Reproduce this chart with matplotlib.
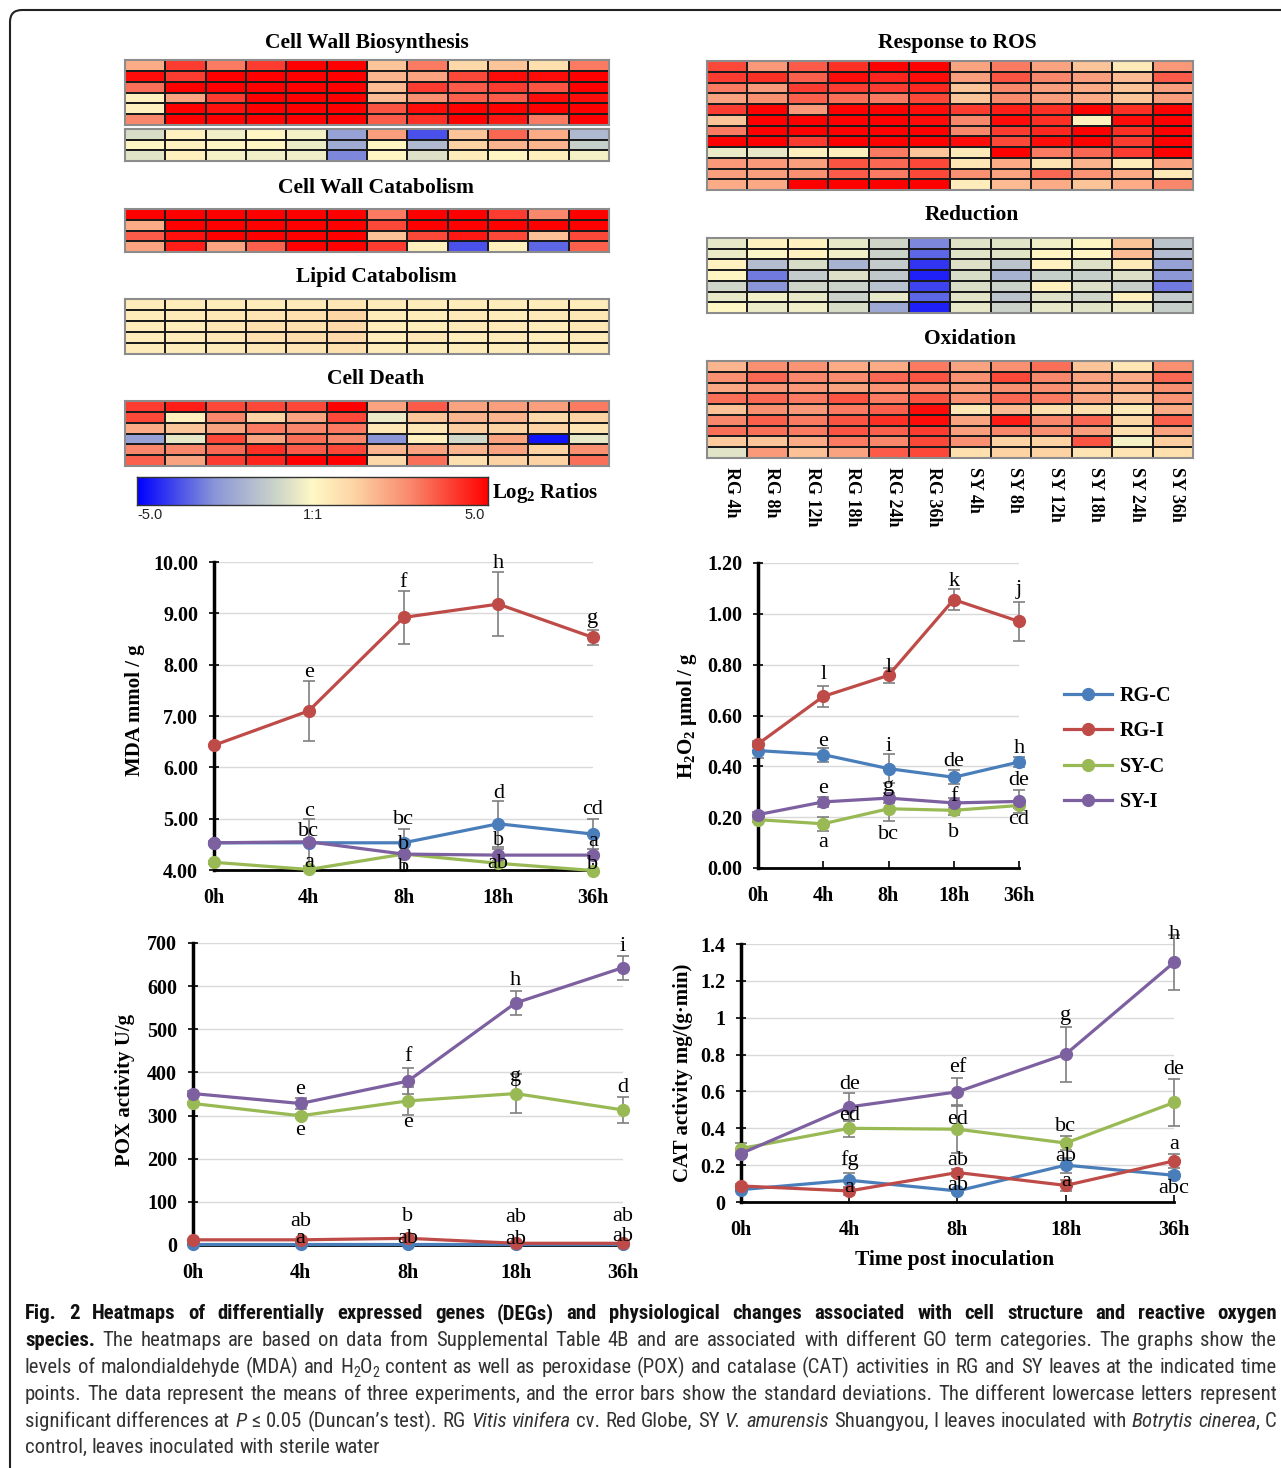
import numpy as np
import matplotlib
matplotlib.use('Agg')
import matplotlib.pyplot as plt
from matplotlib.colors import LinearSegmentedColormap
from matplotlib.patches import FancyBboxPatch
from matplotlib.transforms import IdentityTransform
from matplotlib.lines import Line2D
from matplotlib import font_manager

# ------------------------------------------------------------------ data
heat_columns = ['RG 4h', 'RG 8h', 'RG 12h', 'RG 18h', 'RG 24h', 'RG 36h',
                'SY 4h', 'SY 8h', 'SY 12h', 'SY 18h', 'SY 24h', 'SY 36h']

cwb_upper = [
    [2.0, 4.0, 3.0, 4.0, 5.0, 5.0, 1.5, 3.0, 1.0, 1.5, 0.8, 3.0],
    [4.8, 4.0, 5.0, 5.0, 5.0, 5.0, 1.8, 2.2, 3.8, 4.8, 4.8, 5.0],
    [3.2, 5.0, 5.0, 5.0, 5.0, 5.0, 1.7, 4.0, 3.5, 4.0, 3.6, 5.0],
    [0.2, 2.2, 4.0, 5.0, 5.0, 5.0, 1.7, 2.6, 3.4, 3.5, 4.8, 4.8],
    [0.2, 5.0, 4.7, 5.0, 5.0, 5.0, 3.6, 4.8, 5.0, 5.0, 5.0, 5.0],
    [2.8, 5.0, 5.0, 5.0, 5.0, 5.0, 3.5, 4.2, 5.0, 4.6, 3.0, 5.0],
]
cwb_lower = [
    [-0.8, 0.2, -0.3, 0.1, -0.2, -2.5, 2.3, -3.8, 1.5, 3.3, 2.0, -1.8],
    [0.1, 0.2, 0.1, 0.1, -0.4, -2.2, 0.1, -1.8, 1.2, 1.8, 1.8, -1.2],
    [-0.6, 0.3, -0.2, -0.3, -0.3, -3.0, 0.1, -0.7, 0.4, 0.1, 0.3, -0.2],
]
cell_wall_catabolism = [
    [5.0, 5.0, 5.0, 5.0, 5.0, 5.0, 3.0, 5.0, 5.0, 4.0, 2.8, 5.0],
    [2.0, 5.0, 5.0, 5.0, 5.0, 5.0, 3.8, 5.0, 5.0, 5.0, 5.0, 5.0],
    [3.5, 4.7, 5.0, 5.0, 5.0, 5.0, 1.6, 3.8, 4.6, 3.8, 1.6, 3.8],
    [2.2, 4.5, 2.2, 3.4, 5.0, 5.0, 4.0, 0.3, -3.8, 0.3, -3.5, 3.4],
]
lipid_catabolism = [
    [0.4, 0.4, 0.4, 0.4, 0.5, 0.6, 0.4, 0.4, 0.4, 0.4, 0.4, 0.4],
    [0.4, 0.5, 0.6, 0.7, 0.8, 1.1, 0.4, 0.4, 0.5, 0.4, 0.5, 0.6],
    [0.4, 0.4, 0.6, 0.8, 0.8, 1.0, 0.4, 0.4, 0.5, 0.5, 0.4, 0.6],
    [0.4, 0.5, 0.6, 0.8, 0.9, 1.0, 0.4, 0.6, 0.4, 0.5, 0.4, 0.5],
    [0.4, 0.4, 0.5, 0.6, 0.7, 0.8, 0.4, 0.4, 0.4, 0.4, 0.4, 0.4],
]
cell_death = [
    [4.0, 4.5, 3.8, 3.8, 3.8, 5.0, 2.2, 3.5, 2.2, 2.3, 2.3, 3.0],
    [3.8, 0.3, 2.8, 1.2, 2.2, 3.8, -0.4, 1.5, 1.8, 1.8, 1.0, 1.2],
    [2.0, 1.5, 2.2, 3.0, 2.8, 3.0, 0.6, 0.6, 1.3, 1.2, 1.2, 0.7],
    [-2.5, -0.5, 3.8, 2.2, 3.2, 2.8, -2.8, 0.3, -0.9, 2.2, -4.7, -0.5],
    [2.8, 2.8, 3.3, 4.2, 3.5, 3.8, 1.8, 2.2, 1.8, 2.2, 1.2, 2.6],
    [3.4, 2.2, 4.0, 4.4, 5.0, 5.0, 1.0, 3.2, 0.8, 1.2, 1.2, 3.2],
]
response_to_ros = [
    [3.8, 2.4, 3.5, 4.2, 5.0, 5.0, 2.2, 3.0, 2.2, 1.5, 0.5, 2.4],
    [4.0, 4.2, 3.4, 4.8, 4.4, 4.8, 2.3, 3.6, 2.8, 2.3, 1.7, 3.5],
    [3.0, 2.4, 4.0, 4.0, 4.0, 4.3, 1.5, 2.8, 2.3, 2.0, 1.5, 2.3],
    [2.2, 2.6, 3.4, 3.2, 3.0, 3.8, 1.5, 2.7, 2.3, 2.0, 1.5, 2.3],
    [4.0, 5.0, 2.4, 5.0, 5.0, 4.8, 4.0, 4.5, 4.2, 5.0, 4.2, 5.0],
    [1.5, 5.0, 5.0, 5.0, 5.0, 4.8, 2.8, 4.8, 4.2, 0.3, 4.8, 5.0],
    [3.0, 5.0, 5.0, 5.0, 5.0, 5.0, 2.8, 4.0, 4.3, 5.0, 4.2, 5.0],
    [5.0, 5.0, 4.0, 5.0, 5.0, 5.0, 4.8, 3.8, 4.8, 5.0, 4.0, 5.0],
    [-0.4, -0.5, 0.3, 0.3, 3.0, 1.5, 0.5, 5.0, 3.0, 3.3, 4.0, 5.0],
    [2.4, 2.4, 2.3, 3.6, 3.3, 3.8, 0.6, 2.0, 0.7, 1.8, 0.4, 2.2],
    [2.3, 2.3, 2.6, 3.5, 3.0, 3.8, 2.6, 2.2, 3.3, 2.5, 2.0, 0.5],
    [2.0, 2.1, 5.0, 5.0, 5.0, 5.0, 0.4, 1.7, 2.0, 1.5, 2.0, 2.8],
]
reduction = [
    [-0.5, 0.2, 0.2, -0.5, -1.0, -3.0, -0.6, -0.6, -0.3, 0.1, 1.5, -1.5],
    [-0.4, -0.1, 0.2, -0.3, -1.1, -3.5, -0.6, -0.6, 0.1, 0.1, 1.7, -1.7],
    [0.2, -1.7, -0.8, -2.0, -1.3, -4.2, -0.7, -1.5, 0.2, -0.7, 0.5, -2.5],
    [0.1, -3.2, -1.3, -0.7, -1.4, -4.5, -0.8, -2.0, -1.2, -1.2, -0.7, -2.7],
    [-1.0, -2.8, -1.0, -1.1, -1.6, -4.0, -0.8, -1.1, 0.3, -0.7, -1.2, -3.2],
    [-0.5, -0.3, -0.5, -1.1, -0.5, -3.5, -0.6, -1.5, -0.7, -1.0, 0.3, -1.3],
    [0.0, -0.4, -0.3, -0.8, -2.3, -4.5, -0.5, -1.1, -0.5, -0.6, -0.4, -1.2],
]
oxidation = [
    [1.8, 2.6, 2.5, 2.0, 2.0, 3.0, 2.2, 2.6, 3.2, 1.5, 0.6, 2.6],
    [2.6, 3.3, 2.8, 2.7, 3.3, 3.6, 2.6, 3.8, 2.8, 2.2, 2.0, 3.3],
    [2.1, 2.4, 2.4, 2.2, 2.5, 2.6, 2.3, 2.6, 2.6, 2.0, 1.9, 2.6],
    [3.2, 3.3, 3.0, 3.6, 3.0, 3.6, 2.6, 3.3, 3.0, 2.2, 1.6, 2.5],
    [1.6, 2.6, 2.4, 3.0, 3.4, 4.8, 0.6, 1.7, 0.8, 0.8, 0.5, 2.0],
    [2.8, 3.4, 3.0, 3.6, 4.2, 4.8, 2.2, 4.5, 2.8, 3.3, 1.1, 3.4],
    [3.2, 3.2, 3.0, 3.6, 3.4, 4.0, 2.3, 2.8, 2.6, 2.3, 0.8, 2.2],
    [1.4, 1.5, 2.0, 3.0, 2.8, 3.8, 2.6, 1.2, 1.2, 3.6, -0.2, 1.3],
    [-0.6, 2.4, 1.6, 2.2, 3.5, 3.8, 0.8, 1.2, 1.2, 0.7, 0.7, 0.8],
]

times = ['0h', '4h', '8h', '18h', '36h']
series_names = ['RG-C', 'RG-I', 'SY-C', 'SY-I']

mda_rgc = [4.53, 4.53, 4.53, 4.90, 4.70]
mda_rgi = [6.43, 7.10, 8.92, 9.18, 8.53]
mda_syc = [4.15, 4.01, 4.31, 4.13, 3.99]
mda_syi = [4.53, 4.55, 4.31, 4.29, 4.29]
mda_rgc_err = [0.0, 0.46, 0.26, 0.45, 0.30]
mda_rgi_err = [0.0, 0.58, 0.51, 0.63, 0.15]
mda_syc_err = [0.03, 0.03, 0.05, 0.05, 0.03]
mda_syi_err = [0.03, 0.05, 0.03, 0.12, 0.05]

h2o2_rgc = [0.462, 0.446, 0.391, 0.357, 0.417]
h2o2_rgi = [0.488, 0.675, 0.758, 1.056, 0.970]
h2o2_syc = [0.190, 0.174, 0.233, 0.227, 0.246]
h2o2_syi = [0.210, 0.260, 0.275, 0.256, 0.262]
h2o2_rgc_err = [0.03, 0.028, 0.058, 0.028, 0.02]
h2o2_rgi_err = [0.01, 0.042, 0.03, 0.04, 0.075]
h2o2_syc_err = [0.01, 0.027, 0.05, 0.02, 0.01]
h2o2_syi_err = [0.01, 0.02, 0.02, 0.02, 0.045]

pox_rgc = [2, 2, 2, 2, 2]
pox_rgi = [12, 12, 15.5, 4, 4]
pox_syc = [328, 299.5, 334, 351, 313]
pox_syi = [351, 328, 380, 561, 643]
pox_rgc_err = [0, 0, 0, 0, 0]
pox_rgi_err = [0, 0, 0, 0, 0]
pox_syc_err = [0, 5, 32, 45, 30]
pox_syi_err = [5, 12, 30, 27, 28]

cat_rgc = [0.067, 0.118, 0.060, 0.200, 0.145]
cat_rgi = [0.087, 0.060, 0.160, 0.090, 0.223]
cat_syc = [0.290, 0.400, 0.395, 0.320, 0.540]
cat_syi = [0.263, 0.516, 0.598, 0.802, 1.300]
cat_rgc_err = [0.01, 0.04, 0.01, 0.04, 0.02]
cat_rgi_err = [0.01, 0.02, 0.02, 0.03, 0.04]
cat_syc_err = [0.03, 0.045, 0.13, 0.04, 0.125]
cat_syi_err = [0.01, 0.077, 0.077, 0.15, 0.15]

# significance letters: (time index, letter, label height in data units)
mda_letters = [(1, 'e', 7.84), (2, 'f', 9.61), (3, 'h', 9.97), (4, 'g', 8.90),
               (1, 'c', 5.14), (2, 'bc', 4.98), (3, 'd', 5.49), (4, 'cd', 5.17),
               (1, 'bc', 4.75), (2, 'b', 4.49), (3, 'b', 4.57), (4, 'a', 4.55),
               (1, 'a', 4.14), (2, 'b', 4.05), (3, 'ab', 4.12), (4, 'b', 4.10)]
h2o2_letters = [(1, 'l', 0.76), (2, 'l', 0.79), (3, 'k', 1.128), (4, 'j', 1.095),
                (1, 'e', 0.498), (2, 'i', 0.479), (3, 'de', 0.42), (4, 'h', 0.472),
                (1, 'e', 0.312), (2, 'g', 0.321), (3, 'f', 0.282), (4, 'de', 0.345),
                (1, 'a', 0.102), (2, 'bc', 0.131), (3, 'b', 0.14), (4, 'cd', 0.19)]
pox_letters = [(1, 'e', 360), (2, 'f', 436), (3, 'h', 612), (4, 'i', 692),
               (1, 'e', 266), (2, 'e', 283), (3, 'g', 390), (4, 'd', 365),
               (1, 'ab', 54), (2, 'b', 66), (3, 'ab', 64), (4, 'ab', 67),
               (1, 'a', 15), (2, 'ab', 15), (3, 'ab', 13), (4, 'ab', 19)]
cat_letters = [(1, 'de', 0.64), (2, 'ef', 0.73), (3, 'g', 1.01), (4, 'h', 1.45),
               (1, 'ed', 0.47), (2, 'ed', 0.45), (3, 'bc', 0.41), (4, 'de', 0.72),
               (1, 'a', 0.08), (2, 'ab', 0.226), (3, 'a', 0.11), (4, 'a', 0.31),
               (1, 'fg', 0.23), (2, 'ab', 0.087), (3, 'ab', 0.248), (4, 'abc', 0.072)]

# ------------------------------------------------------------------ style
W, H = 1281, 1468
SERIF = 'Liberation Serif'
plt.rcParams['mathtext.fontset'] = 'custom'
plt.rcParams['mathtext.rm'] = 'Liberation Serif'
plt.rcParams['mathtext.bf'] = 'Liberation Serif:bold'
plt.rcParams['mathtext.it'] = 'Liberation Serif:italic'

# pick a condensed sans for the caption if one is installed
ttf = font_manager.fontManager.ttflist
names = {f.name for f in ttf}
CAP_FAMILY, CAP_STRETCH = 'Liberation Sans', 'normal'
for cand in ['Liberation Sans Narrow', 'Roboto Condensed', 'Open Sans Condensed',
             'Noto Sans Condensed', 'Arial Narrow']:
    if cand in names:
        CAP_FAMILY = cand
        break
else:
    for fam in ['DejaVu Sans', 'Noto Sans', 'Open Sans', 'Roboto']:
        if any(f.name == fam and str(f.stretch) in ('condensed', 'semi-condensed', '75', '87.5')
               for f in ttf):
            CAP_FAMILY, CAP_STRETCH = fam, 'condensed'
            break

series_colors = ['#4A7EBB', '#BE4B48', '#98B954', '#7D60A0']

cmap = LinearSegmentedColormap.from_list('log2', [
    (0.0, '#0000ff'), (0.22, '#8a96d8'), (0.40, '#cfd6c9'), (0.5, '#fff9c6'),
    (0.62, '#fdd3a4'), (0.78, '#f9876b'), (1.0, '#ff0000')])

fig = plt.figure(figsize=(W / 100, H / 100), dpi=100)


def px_axes(x0, y0, x1, y1):
    return fig.add_axes([x0 / W, 1 - y1 / H, (x1 - x0) / W, (y1 - y0) / H])


def ftext(x, y, s, **kw):
    return fig.text(x / W, 1 - y / H, s, **kw)


# ------------------------------------------------------------------ heatmaps
def heat(box, arr):
    ax = px_axes(*box)
    a = np.array(arr)
    ax.pcolormesh(a, cmap=cmap, vmin=-5, vmax=5, edgecolors='#1c1c1c', linewidth=1.2)
    ax.set_xlim(0, a.shape[1])
    ax.set_ylim(a.shape[0], 0)
    ax.set_xticks([])
    ax.set_yticks([])
    for sp in ax.spines.values():
        sp.set_color('#8c8c8c')
        sp.set_linewidth(1.5)
    return ax


title_kw = dict(family=SERIF, weight='bold', fontsize=15.5, ha='center', va='center')
ftext(367, 43, 'Cell Wall Biosynthesis', **title_kw)
heat((125, 60, 609, 125), cwb_upper)
heat((125, 129, 609, 161), cwb_lower)
ftext(376, 188, 'Cell Wall Catabolism', **title_kw)
heat((125, 209, 609, 252), cell_wall_catabolism)
ftext(376, 277, 'Lipid Catabolism', **title_kw)
heat((125, 299, 609, 354), lipid_catabolism)
ftext(376, 379, 'Cell Death', **title_kw)
heat((125, 401, 609, 466), cell_death)

ftext(957, 43, 'Response to ROS', **title_kw)
heat((707, 61, 1193, 190), response_to_ros)
ftext(972, 215, 'Reduction', **title_kw)
heat((707, 238, 1193, 313), reduction)
ftext(970, 339, 'Oxidation', **title_kw)
heat((707, 361, 1193, 458), oxidation)
col_w = (1193 - 707) / len(heat_columns)
for i, lab in enumerate(heat_columns):
    ftext(707 + (i + 0.5) * col_w + 4, 467, lab, family=SERIF, weight='bold',
          fontsize=13, rotation=-90, ha='center', va='top')

# colour bar
cax = px_axes(137, 477, 488, 505)
cax.imshow(np.linspace(-5, 5, 256)[None, :], aspect='auto', cmap=cmap,
           extent=[-5, 5, 0, 1], vmin=-5, vmax=5)
cax.set_xticks([])
cax.set_yticks([])
for sp in cax.spines.values():
    sp.set_color('#333333')
    sp.set_linewidth(1.0)
for xx, s in [(150, '-5.0'), (313, '1:1'), (475, '5.0')]:
    ftext(xx, 515, s, family='Liberation Sans', fontsize=10.5, ha='center',
          va='center', color='#222222')
ftext(492, 493, r'$\mathbf{Log_2\ Ratios}$', fontsize=15, ha='left', va='center')


# ------------------------------------------------------------------ line charts
def line_chart(box, ylim, yticks, yticklabels, values, errors, letters):
    ax = px_axes(*box)
    x = np.arange(len(times))
    for v, e, c in zip(values, errors, series_colors):
        eb = ax.errorbar(x, v, yerr=e, fmt='none', ecolor='#7f7f7f', elinewidth=1.2,
                         capsize=4, capthick=1.2, zorder=2)
        for art in list(eb.lines[1]) + list(eb.lines[2]):
            art.set_clip_on(False)
    for v, c in zip(values, series_colors):
        ax.plot(x, v, '-o', color=c, lw=2.3, ms=8.5, clip_on=False, zorder=3)
    for ti, s, yv in letters:
        ax.text(ti, yv, s, family=SERIF, fontsize=16, ha='center', va='center', zorder=4)
    ax.set_xlim(0, len(times) - 1)
    ax.set_ylim(*ylim)
    ax.set_yticks(yticks)
    ax.set_yticklabels(yticklabels)
    ax.set_xticks(x)
    ax.set_xticklabels(times)
    for lab in ax.get_xticklabels() + ax.get_yticklabels():
        lab.set_family(SERIF)
        lab.set_weight('bold')
        lab.set_fontsize(14.5)
    ax.yaxis.grid(True, color='#d9d9d9', lw=1.0)
    ax.set_axisbelow(True)
    ax.spines['top'].set_visible(False)
    ax.spines['right'].set_visible(False)
    ax.spines['left'].set_linewidth(2.5)
    ax.spines['bottom'].set_linewidth(2.0)
    ax.tick_params(axis='y', direction='inout', length=7, width=1.2, pad=8)
    ax.tick_params(axis='x', direction='in', length=5, width=1.2, pad=13)
    ax.patch.set_alpha(0)
    return ax


line_chart((214, 562, 593, 870), (4, 10), np.arange(4, 10.01, 1),
           ['%.2f' % t for t in np.arange(4, 10.01, 1)],
           [mda_rgc, mda_rgi, mda_syc, mda_syi],
           [mda_rgc_err, mda_rgi_err, mda_syc_err, mda_syi_err], mda_letters)
ftext(135, 710, 'MDA mmol / g', family=SERIF, weight='bold', fontsize=15,
      rotation=90, ha='center', va='center')

h_ticks = np.round(np.arange(0, 1.21, 0.2), 2)
line_chart((758, 563, 1019, 868), (0, 1.2), h_ticks, ['%.2f' % t for t in h_ticks],
           [h2o2_rgc, h2o2_rgi, h2o2_syc, h2o2_syi],
           [h2o2_rgc_err, h2o2_rgi_err, h2o2_syc_err, h2o2_syi_err], h2o2_letters)
ftext(687, 715, r'$\mathbf{H_2O_2\ μmol\ /\ g}$', fontsize=15,
      rotation=90, ha='center', va='center')

handles = [Line2D([], [], color=c, marker='o', lw=2.3, ms=8.5) for c in series_colors]
fig.legend(handles, series_names, loc='center left',
           bbox_to_anchor=(1046 / W, 1 - 749 / H), frameon=False,
           prop=dict(family=SERIF, weight='bold', size=14.5),
           handlelength=2.4, handletextpad=0.35, labelspacing=0.75)

p_ticks = np.arange(0, 701, 100)
line_chart((193, 943, 623, 1245), (0, 700), p_ticks, [str(t) for t in p_ticks],
           [pox_rgc, pox_rgi, pox_syc, pox_syi],
           [pox_rgc_err, pox_rgi_err, pox_syc_err, pox_syi_err], pox_letters)
ftext(125, 1090, 'POX activity U/g', family=SERIF, weight='bold', fontsize=15,
      rotation=90, ha='center', va='center')

c_ticks = np.round(np.arange(0, 1.41, 0.2), 1)
line_chart((741, 944, 1174, 1202), (0, 1.4), c_ticks,
           ['0', '0.2', '0.4', '0.6', '0.8', '1', '1.2', '1.4'],
           [cat_rgc, cat_rgi, cat_syc, cat_syi],
           [cat_rgc_err, cat_rgi_err, cat_syc_err, cat_syi_err], cat_letters)
ftext(683, 1073, 'CAT activity mg/(g·min)', family=SERIF, weight='bold', fontsize=15,
      rotation=90, ha='center', va='center')
ftext(955, 1260, 'Time post inoculation', family=SERIF, weight='bold', fontsize=15.5,
      ha='center', va='center')

# ------------------------------------------------------------------ caption
cap_lines = [
    ([("Fig. 2 Heatmaps of differentially expressed genes (DEGs) and physiological changes "
       "associated with cell structure and reactive oxygen", 'b')], True),
    ([("species.", 'b'),
      (" The heatmaps are based on data from Supplemental Table 4B and are associated with "
       "different GO term categories. The graphs show the", 'n')], True),
    ([("levels of malondialdehyde (MDA) and H", 'n'), ("2", 'sub'), ("O", 'n'), ("2", 'sub'),
      (" content as well as peroxidase (POX) and catalase (CAT) activities in RG and SY "
       "leaves at the indicated time", 'n')], True),
    ([("points. The data represent the means of three experiments, and the error bars show "
       "the standard deviations. The different lowercase letters represent", 'n')], True),
    ([("significant differences at ", 'n'), ("P", 'i'), (" ≤ 0.05 (Duncan’s test). RG ", 'n'),
      ("Vitis vinifera", 'i'), (" cv. Red Globe, SY ", 'n'), ("V. amurensis", 'i'),
      (" Shuangyou, I leaves inoculated with ", 'n'), ("Botrytis cinerea", 'i'),
      (", C", 'n')], True),
    ([("control, leaves inoculated with sterile water", 'n')], False),
]
cap_y = [1313, 1340, 1367, 1394, 1421, 1447]
X_LEFT, X_RIGHT = 25, 1277
renderer = fig.canvas.get_renderer()


def seg_kw(style, fs):
    kw = dict(family=[CAP_FAMILY, 'DejaVu Sans'], fontstretch=CAP_STRETCH,
              fontsize=fs, color='#333333')
    if style == 'b':
        kw.update(weight='bold', color='#111111')
    elif style == 'i':
        kw.update(style='italic')
    elif style == 'sub':
        kw.update(fontsize=fs * 0.68)
    return kw


def measure(s, kw):
    t = fig.text(0, 0, s, **kw)
    w = t.get_window_extent(renderer=renderer).width
    t.remove()
    return w


def split_words(runs):
    words = [[]]
    for text, style in runs:
        parts = text.split(' ')
        for k, p in enumerate(parts):
            if k > 0:
                words.append([])
            if p:
                words[-1].append((p, style))
    return [w for w in words if w]


def space_w(fs):
    return measure('a a', seg_kw('n', fs)) - measure('aa', seg_kw('n', fs))


def natural_width(runs, fs):
    words = split_words(runs)
    tot = sum(measure(s, seg_kw(st, fs)) for w in words for s, st in w)
    return tot + space_w(fs) * (len(words) - 1)


fs0 = 13.5
ratio = max(natural_width(r, fs0) / (X_RIGHT - X_LEFT) for r, j in cap_lines if j)
fs = min(15.5, fs0 * 0.99 / ratio)

for (runs, justify), yc in zip(cap_lines, cap_y):
    words = split_words(runs)
    widths = [[measure(s, seg_kw(st, fs)) for s, st in w] for w in words]
    total = sum(sum(w) for w in widths)
    gap = (X_RIGHT - X_LEFT - total) / (len(words) - 1) if justify else space_w(fs)
    x = X_LEFT
    base = yc + 6
    for w, ws in zip(words, widths):
        for (s, st), sw in zip(w, ws):
            yy = base + (4 if st == 'sub' else 0)
            ftext(x, yy, s, ha='left', va='baseline', **seg_kw(st, fs))
            x += sw
        x += gap

# frame
fig.add_artist(FancyBboxPatch((10, -20), 1400, H - 10 + 20,
                              boxstyle='round,pad=0,rounding_size=12',
                              transform=IdentityTransform(), fill=False,
                              lw=1.5, ec='#222222'))

fig.savefig('out.png', dpi=100)
